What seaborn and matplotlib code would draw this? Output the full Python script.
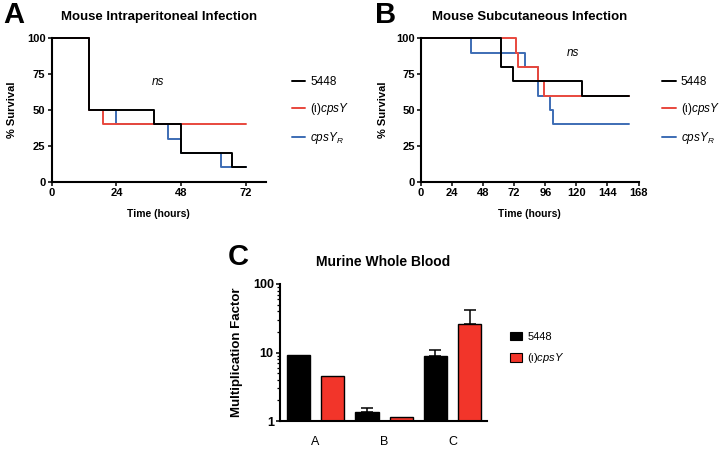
import numpy as np
import pandas as pd
import matplotlib
matplotlib.use("Agg")
import matplotlib.pyplot as plt
import seaborn as sns
from matplotlib.lines import Line2D
from matplotlib.patches import Patch
from matplotlib.ticker import NullFormatter

# --- data ---
strains = ["5448", "(ι)cpsY", "cpsY_R"]
labels = ["5448", r"(ι)$\mathit{cpsY}$", r"$\mathit{cpsY_R}$"]

# A: intraperitoneal survival (hours, % survival)
a_time_5448 = [0, 14, 38, 48, 67, 72]
a_surv_5448 = [100, 50, 40, 20, 10, 10]
a_time_cpsy = [0, 14, 19, 72]
a_surv_cpsy = [100, 50, 40, 40]
a_time_cpsyr = [0, 14, 24, 43, 48, 63, 72]
a_surv_cpsyr = [100, 50, 40, 30, 20, 10, 10]

# B: subcutaneous survival
b_time_5448 = [0, 62, 71, 124, 161]
b_surv_5448 = [100, 80, 70, 60, 60]
b_time_cpsy = [0, 73, 75, 90, 95, 161]
b_surv_cpsy = [100, 90, 80, 70, 60, 60]
b_time_cpsyr = [0, 39, 80, 90, 100, 102, 161]
b_surv_cpsyr = [100, 90, 80, 60, 50, 40, 40]

# C: whole blood multiplication factor
c_groups = ["A", "B", "C"]
c_5448 = [9.1, 1.37, 8.8]
c_5448_err = [0, 0.16, 2.2]
c_cpsy = [4.54, 1.16, 26.3]
c_cpsy_err = [0, 0, 15.0]

line_colors = {"5448": "black", "(ι)cpsY": "#E8473D", "cpsY_R": "#3D6DB4"}
bar_colors = ["black", "#F2352A"]

sns.set_style("ticks", rc={"axes.edgecolor": "black", "text.color": "black",
                           "axes.labelcolor": "black", "xtick.color": "black",
                           "ytick.color": "black"})
plt.rcParams["font.family"] = ["Liberation Sans", "DejaVu Sans"]
plt.rcParams["mathtext.fontset"] = "custom"
plt.rcParams["mathtext.it"] = "Liberation Sans:italic"
plt.rcParams["mathtext.rm"] = "Liberation Sans"

W, H = 720, 450
fig = plt.figure(figsize=(7.2, 4.5), dpi=100)


def box(x0, y_top, x1, y_bot):
    return [x0 / W, 1 - y_bot / H, (x1 - x0) / W, (y_bot - y_top) / H]


def survival_df(times, survs):
    rows = []
    for s, t, v in zip(strains, times, survs):
        for ti, vi in zip(t, v):
            rows.append({"strain": s, "time": ti, "surv": vi})
    return pd.DataFrame(rows)


def style_axis(ax, fs):
    sns.despine(ax=ax)
    for sp in ["left", "bottom"]:
        ax.spines[sp].set_linewidth(1.5)
    ax.tick_params(width=1.1, length=3, labelsize=fs, pad=1.5)
    for lab in ax.get_xticklabels() + ax.get_yticklabels():
        lab.set_fontweight("bold")


def survival_panel(ax, df, xmax, xticks, title, ns_xy, ylab_x, leg_x):
    # draw blue, red, then black so black stays on top
    for s in strains[::-1]:
        sub = df[df["strain"] == s]
        sns.lineplot(data=sub, x="time", y="surv", ax=ax, color=line_colors[s],
                     drawstyle="steps-post", estimator=None, linewidth=1.4,
                     legend=False, clip_on=False)
    ax.set_xlim(0, xmax)
    ax.set_ylim(0, 100)
    ax.set_xticks(xticks)
    ax.set_yticks([0, 25, 50, 75, 100])
    style_axis(ax, 8)
    ax.set_xlabel("Time (hours)", fontsize=7.5, fontweight="bold", va="top")
    ax.xaxis.set_label_coords(0.5, -0.19)
    ax.set_ylabel("% Survival", fontsize=8, fontweight="bold")
    ax.yaxis.set_label_coords(ylab_x, 0.5)
    ax.set_title(title, fontsize=9.5, fontweight="bold", pad=13)
    ax.text(ns_xy[0], ns_xy[1], "ns", style="italic", fontsize=8.5,
            ha="center", va="center")
    handles = [Line2D([], [], color=line_colors[s], linewidth=1.4) for s in strains]
    ax.legend(handles, labels, frameon=False, fontsize=8.5, handlelength=1.15,
              handletextpad=0.45, labelspacing=1.1, borderpad=0,
              borderaxespad=0, loc="upper left", bbox_to_anchor=(leg_x, 0.735))


# --- Panel A ---
axA = fig.add_axes(box(51.7, 38.3, 265.7, 181.7))
dfA = survival_df([a_time_5448, a_time_cpsy, a_time_cpsyr],
                  [a_surv_5448, a_surv_cpsy, a_surv_cpsyr])
survival_panel(axA, dfA, 79.4, [0, 24, 48, 72],
               "Mouse Intraperitoneal Infection", (39.4, 69.4), -0.162, 1.121)

# --- Panel B ---
axB = fig.add_axes(box(421, 38.3, 638.5, 181.7))
dfB = survival_df([b_time_5448, b_time_cpsy, b_time_cpsyr],
                  [b_surv_5448, b_surv_cpsy, b_surv_cpsyr])
survival_panel(axB, dfB, 168, [0, 24, 48, 72, 96, 120, 144, 168],
               "Mouse Subcutaneous Infection", (117.4, 89.6), -0.15, 1.108)

# --- Panel C ---
axC = fig.add_axes(box(280, 284, 486.7, 421))
dfC = pd.DataFrame({
    "group": c_groups * 2,
    "strain": ["5448"] * 3 + ["(ι)cpsY"] * 3,
    "value": c_5448 + c_cpsy,
})
axC.set_yscale("log")
sns.barplot(data=dfC, x="group", y="value", hue="strain", ax=axC,
            palette=bar_colors, saturation=1, edgecolor="black", linewidth=1,
            width=1.0, gap=0.32, errorbar=None, legend=False)
for cont, errs in zip(axC.containers, [c_5448_err, c_cpsy_err]):
    for bar, e in zip(cont, errs):
        if e > 0:
            xc = bar.get_x() + bar.get_width() / 2
            axC.errorbar(xc, bar.get_height(), yerr=[[0], [e]], fmt="none",
                         ecolor="black", elinewidth=1.1, capsize=4, capthick=1.1)
axC.set_ylim(1, 100)
axC.set_xlim(-0.52, 2.5)
axC.set_yticks([1, 10, 100], labels=["1", "10", "100"])
axC.yaxis.set_minor_formatter(NullFormatter())
style_axis(axC, 9)
axC.tick_params(axis="y", which="minor", length=2, width=0.9)
axC.tick_params(axis="x", length=0, pad=11)
for lab in axC.get_xticklabels():
    lab.set_fontweight("normal")
axC.set_xlabel("")
axC.set_ylabel("Multiplication Factor", fontsize=9.5, fontweight="bold")
axC.yaxis.set_label_coords(-0.179, 0.5)
axC.set_title("Murine Whole Blood", fontsize=10, fontweight="bold", pad=13)
c_handles = [Patch(facecolor=c, edgecolor="black", linewidth=0.8) for c in bar_colors]
axC.legend(c_handles, labels[:2], frameon=False, fontsize=8, handlelength=1.05,
           handleheight=0.85, handletextpad=0.5, labelspacing=0.85, borderpad=0,
           borderaxespad=0, loc="upper left", bbox_to_anchor=(1.113, 0.653))

# panel letters
for letter, x, ybase in [("A", 3, 23), ("B", 375, 23), ("C", 228, 265)]:
    fig.text(x / W, 1 - ybase / H, letter, fontsize=21, fontweight="bold",
             va="baseline", ha="left")

fig.savefig("out.png", dpi=100)
